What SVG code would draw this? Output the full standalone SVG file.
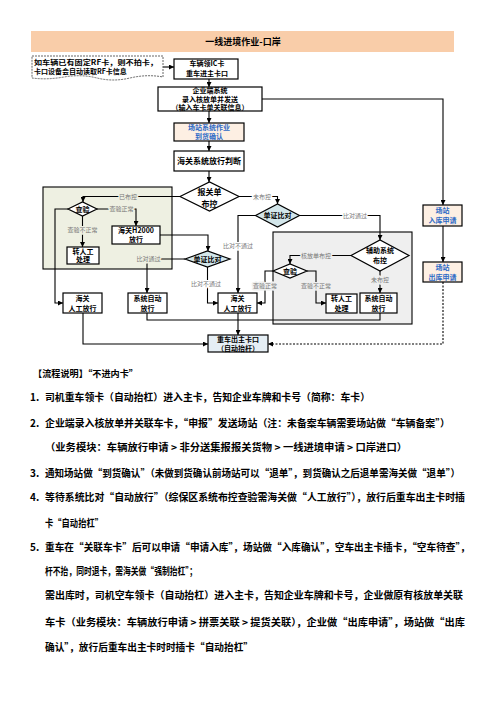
<svg xmlns="http://www.w3.org/2000/svg" width="496" height="702" viewBox="0 0 496 702">
<style>
.n{fill:#fff;stroke:#000;stroke-width:1.2}
.t{font-family:"Noto Sans CJK SC","Liberation Sans",sans-serif;font-size:8px;font-weight:bold;text-anchor:middle;fill:#000}
.s{font-size:7px}
.b{fill:#2F6BC6}
.e{fill:none;stroke:#000;stroke-width:1.1}
.l{font-family:"Noto Sans CJK SC","Liberation Sans",sans-serif;font-size:6px;text-anchor:middle;fill:#777;paint-order:stroke;stroke-width:3px;stroke-linejoin:round}
.lw{stroke:#fff}.lg{stroke:#EEF0E2}.lgr{stroke:#EFEFEF}
.p{font-family:"Noto Sans CJK SC","Liberation Sans",sans-serif;font-size:10px;font-weight:bold;fill:#000}
</style>
<defs>
<marker id="a" viewBox="0 0 6 6" refX="6" refY="3" markerWidth="5" markerHeight="5" orient="auto" markerUnits="userSpaceOnUse"><path d="M0,0L6,3L0,6z" fill="#000"/></marker>
</defs>
<g id="title"><rect x="31" y="31" width="423" height="21" fill="#F9CDA9"/><text class="t" x="243" y="45" style="font-size:9px">一线进境作业-口岸</text></g>
<g id="regions">
<rect x="43" y="187" width="129" height="82" fill="#EEF0E2" stroke="#000" stroke-width="1.1"/>
<rect x="273" y="232" width="139" height="92" fill="#EFEFEF" stroke="#000" stroke-width="1.1"/>
</g>
<g id="connectors">
<path class="e" d="M163,67H174" marker-end="url(#a)"/>
<path class="e" d="M209,79V87" marker-end="url(#a)"/>
<path class="e" d="M209,111V123" marker-end="url(#a)"/>
<path class="e" d="M209,141V151" marker-end="url(#a)"/>
<path class="e" d="M209,171V182" marker-end="url(#a)"/>
<path class="e" d="M180,196.5H83V202" marker-end="url(#a)"/>
<path class="e" d="M97,209H136V226" marker-end="url(#a)"/>
<path class="e" d="M82.5,216V247" marker-end="url(#a)"/>
<path class="e" d="M68,209H55V303H63" marker-end="url(#a)"/>
<path class="e" d="M160,235H208V251" marker-end="url(#a)"/>
<path class="e" d="M185,259H147V293" marker-end="url(#a)"/>
<path class="e" d="M207.5,267V303H218" marker-end="url(#a)"/>
<path class="e" d="M239,196.5H277.5V204" marker-end="url(#a)"/>
<path class="e" d="M255.5,215.5H238V293" marker-end="url(#a)"/>
<path class="e" d="M299.5,215.5H380V240" marker-end="url(#a)"/>
<path class="e" d="M351,255.5H290V264" marker-end="url(#a)"/>
<path class="e" d="M273,271H265V303H257" marker-end="url(#a)"/>
<path class="e" d="M307,271H316V303H326" marker-end="url(#a)"/>
<path class="e" d="M380,271V293" marker-end="url(#a)"/>
<path class="e" d="M147,313V320H380V313"/>
<path class="e" d="M238,313V335" marker-end="url(#a)"/>
<path class="e" d="M83,313V344H208" marker-end="url(#a)"/>
<path class="e" d="M262,99H443V205" marker-end="url(#a)"/>
<path class="e" d="M443,226V262" marker-end="url(#a)"/>
<path class="e" d="M443,282V344H268" stroke-dasharray="2,1.5" marker-end="url(#a)"/>
<text class="l lg" x="128" y="198.5">已布控</text>
<text class="l lg" x="121.5" y="211">查验正常</text>
<text class="l lg" x="82.5" y="232">查验不正常</text>
<text class="l lg" x="148.5" y="261">比对通过</text>
<text class="l lw" x="206" y="286">比对不通过</text>
<text class="l lw" x="262" y="198.5">未布控</text>
<text class="l lw" x="238" y="248">比对不通过</text>
<text class="l lw" x="355" y="217.5">比对通过</text>
<text class="l lgr" x="316" y="257.5">核放单布控</text>
<text class="l lgr" x="265" y="288">查验正常</text>
<text class="l lgr" x="316" y="288">查验不正常</text>
<text class="l lgr" x="380" y="282">未布控</text>
</g>
<g id="note"><path d="M32,56H163V77Q147,74 130,78T97,78T64,77T32,78Z" fill="#fff" stroke="#666" stroke-width="1" stroke-dasharray="2,1"/>
<text class="t s" x="34" y="64.5" style="text-anchor:start" textLength="124" lengthAdjust="spacingAndGlyphs">如车辆已有固定RF卡，则不拍卡，</text>
<text class="t s" x="34" y="74" style="text-anchor:start">卡口设备会自动读取RF卡信息</text></g>
<g id="n1"><rect class="n" x="174" y="59" width="64" height="20"/><text class="t s" x="207" y="66">车辆领IC卡</text><text class="t s" x="207" y="76">重车进主卡口</text></g>
<g id="n2"><rect class="n" x="158" y="87" width="104" height="24"/><text class="t s" x="210" y="93">企业端系统</text><text class="t s" x="210" y="101.5">录入核放单并发送</text><text class="t s" x="210" y="110">（输入车卡单关联信息）</text></g>
<g id="n3"><rect class="n" x="174" y="123" width="70" height="18" style="fill:#FDEFE3"/><text class="t b s" x="209" y="130">场站系统作业</text><text class="t b s" x="209" y="139">到货确认</text></g>
<g id="n4"><rect class="n" x="174" y="151" width="70" height="20"/><text class="t" x="209" y="164">海关系统放行判断</text></g>
<g id="d1"><polygon class="n" points="180,196.5 209.5,182 239,196.5 209.5,211"/><text class="t" x="209.5" y="195">报关单</text><text class="t" x="209.5" y="207">布控</text></g>
<g id="d2"><polygon class="n" points="68,209 82.5,202 97,209 82.5,216"/><text class="t s" x="82.5" y="211.5">查验</text></g>
<g id="n5"><rect class="n" x="112" y="226" width="48" height="18"/><text class="t s" x="136" y="233">海关H2000</text><text class="t s" x="136" y="242">放行</text></g>
<g id="n6"><rect class="n" x="67" y="247" width="32" height="17"/><text class="t s" x="83" y="253.5">转人工</text><text class="t s" x="83" y="262">处理</text></g>
<g id="n7"><rect class="n" x="63" y="293" width="39" height="20"/><text class="t s" x="82.5" y="301">海关</text><text class="t s" x="82.5" y="310.5">人工放行</text></g>
<g id="d3"><polygon class="n" points="185,259 207.5,251 230,259 207.5,267" style="fill:#D3E6EA"/><text class="t s" x="207.5" y="261.5">单证比对</text></g>
<g id="n8"><rect class="n" x="128" y="293" width="39" height="20"/><text class="t s" x="147.5" y="301">系统自动</text><text class="t s" x="147.5" y="310.5">放行</text></g>
<g id="n9"><rect class="n" x="218" y="293" width="39" height="20"/><text class="t s" x="237.5" y="301">海关</text><text class="t s" x="237.5" y="310.5">人工放行</text></g>
<g id="d4"><polygon class="n" points="255.5,215.5 277.5,204 299.5,215.5 277.5,227" style="fill:#D3E6EA"/><text class="t s" x="277.5" y="218">单证比对</text></g>
<g id="d5"><polygon class="n" points="351,255.5 380,240 409,255.5 380,271"/><text class="t s" x="380" y="253">辅助系统</text><text class="t s" x="380" y="262.5">布控</text></g>
<g id="d6"><polygon class="n" points="273,271 290,264 307,271 290,278"/><text class="t s" x="290" y="273.5">查验</text></g>
<g id="n10"><rect class="n" x="326" y="294" width="31" height="19"/><text class="t s" x="341.5" y="301">转人工</text><text class="t s" x="341.5" y="310.5">处理</text></g>
<g id="n11"><rect class="n" x="360" y="293" width="37" height="20"/><text class="t s" x="378.5" y="301">系统自动</text><text class="t s" x="378.5" y="310.5">放行</text></g>
<g id="n12"><rect class="n" x="208" y="335" width="60" height="17" style="fill:#E5EEF4"/><text class="t s" x="238" y="342">重车出主卡口</text><text class="t s" x="238" y="350.5">（自动抬杆）</text></g>
<g id="n13"><rect class="n" x="423" y="205" width="39" height="21" style="fill:#FDEFE3"/><text class="t b s" x="442.5" y="213">场站</text><text class="t b s" x="442.5" y="222.5">入库申请</text></g>
<g id="n14"><rect class="n" x="423" y="262" width="39" height="20" style="fill:#FDEFE3"/><text class="t b s" x="442.5" y="270">场站</text><text class="t b s" x="442.5" y="279.5">出库申请</text></g>
<g id="desc">
<text class="p" x="33" y="377" textLength="105" lengthAdjust="spacingAndGlyphs" style="font-size:9px">【流程说明】“不进内卡”</text>
<text class="p" x="30" y="401">1.</text>
<text class="p" x="45" y="401" textLength="325" lengthAdjust="spacingAndGlyphs">司机重车领卡（自动抬杠）进入主卡，告知企业车牌和卡号（简称：车卡）</text>
<text class="p" x="30" y="427">2.</text>
<text class="p" x="45" y="427" textLength="405" lengthAdjust="spacingAndGlyphs">企业端录入核放单并关联车卡，“申报”发送场站（注：未备案车辆需要场站做“车辆备案”）</text>
<text class="p" x="45" y="451" textLength="362" lengthAdjust="spacingAndGlyphs">（业务模块：车辆放行申请 &gt; 非分送集报报关货物 &gt; 一线进境申请 &gt; 口岸进口）</text>
<text class="p" x="30" y="476.5">3.</text>
<text class="p" x="45" y="476.5" textLength="415" lengthAdjust="spacingAndGlyphs">通知场站做“到货确认”（未做到货确认前场站可以“退单”，到货确认之后退单需海关做“退单”）</text>
<text class="p" x="30" y="500.5">4.</text>
<text class="p" x="45" y="500.5" textLength="420" lengthAdjust="spacingAndGlyphs">等待系统比对“自动放行”（综保区系统布控查验需海关做“人工放行”），放行后重车出主卡时插</text>
<text class="p" x="45" y="526.5" textLength="58" lengthAdjust="spacingAndGlyphs">卡“自动抬杠”</text>
<text class="p" x="30" y="550.5">5.</text>
<text class="p" x="45" y="550.5" textLength="425" lengthAdjust="spacingAndGlyphs">重车在“关联车卡”后可以申请“申请入库”，场站做“入库确认”，空车出主卡插卡，“空车待查”，</text>
<text class="p" x="45" y="574.5" textLength="152" lengthAdjust="spacingAndGlyphs">杆不抬，同时退卡，需海关做“强制抬杠”；</text>
<text class="p" x="45" y="598.5" textLength="418" lengthAdjust="spacingAndGlyphs">需出库时，司机空车领卡（自动抬杠）进入主卡，告知企业车牌和卡号，企业做原有核放单关联</text>
<text class="p" x="45" y="625.5" textLength="420" lengthAdjust="spacingAndGlyphs">车卡（业务模块：车辆放行申请 &gt; 拼票关联 &gt; 提货关联），企业做“出库申请”，场站做“出库</text>
<text class="p" x="45" y="650.5" textLength="208" lengthAdjust="spacingAndGlyphs">确认”，放行后重车出主卡时时插卡“自动抬杠”</text>
</g>
</svg>
